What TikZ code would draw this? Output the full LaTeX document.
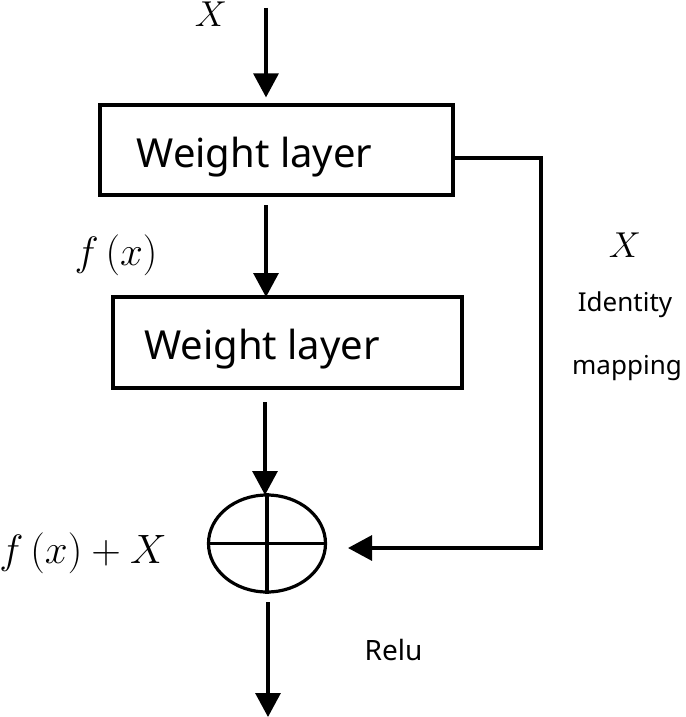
\RequirePackage{fix-cm}
\documentclass[tikz,border=0pt]{standalone}
\usepackage{fontspec}
\setsansfont{Noto Sans}
\usetikzlibrary{arrows.meta,shapes.geometric}
\tikzset{
  box/.style={draw, line width=3.2pt, inner sep=0pt},
  conn/.style={line width=3.2pt, -{Triangle[width=25pt,length=24pt]}},
  wtext/.style={font=\sffamily\fontsize{40}{44}\selectfont, inner sep=0pt},
  stext/.style={font=\sffamily\fontsize{26}{30}\selectfont, inner sep=0pt},
  mtext/.style={font=\fontsize{36}{40}\selectfont, inner sep=0pt},
  ftext/.style={font=\fontsize{41}{46}\selectfont, inner sep=0pt}
}
\begin{document}
\begin{tikzpicture}[x=1pt,y=-1pt]
\useasboundingbox (0,0) rectangle (685,717);
% boxes
\node[box, minimum width=353pt, minimum height=90pt] (w1) at (276.5,150) {};
\node[wtext] (t1) at (254.5,157) {Weight layer};
\node[box, minimum width=349pt, minimum height=91pt] (w2) at (287.5,342.5) {};
\node[wtext] (t2) at (262,349) {Weight layer};
% sum
\node[draw, ellipse, line width=3.2pt, minimum width=117pt, minimum height=97pt, inner sep=0pt] (sum) at (267,543.5) {};
\draw[line width=3.2pt] (sum.north) -- (sum.south);
\draw[line width=3.2pt] (sum.west) -- (sum.east);
% coordinates
\coordinate (in) at (266,8);
\coordinate (out) at (268,717);
\coordinate (c1) at (541,158);
\coordinate (c2) at (541,548);
% connectors
\draw[conn, shorten >=6pt] (in) -- (in |- w1.north);
\draw[conn] (266,205) -- (266,297);
\draw[conn] (265,402) -- (265,495);
\draw[conn] (268,602) -- (out);
\draw[conn] (w1.east |- c1) -- (c1) -- (c2) -- (348,548);
% labels
\node[mtext, anchor=base] (lx) at (211,27) {$X$};
\node[ftext] (lf) at (116,255) {$f\,(x)$};
\node[ftext] (lfx) at (83,553) {$f\,(x)+X$};
\node[mtext] (lx2) at (625,245) {$X$};
\node[stext] (li) at (625,305) {Identity};
\node[stext] (lm) at (627,368) {mapping};
\node[stext, font=\sffamily\fontsize{28}{32}\selectfont] (lr) at (393.5,650) {Relu};
\end{tikzpicture}
\end{document}
